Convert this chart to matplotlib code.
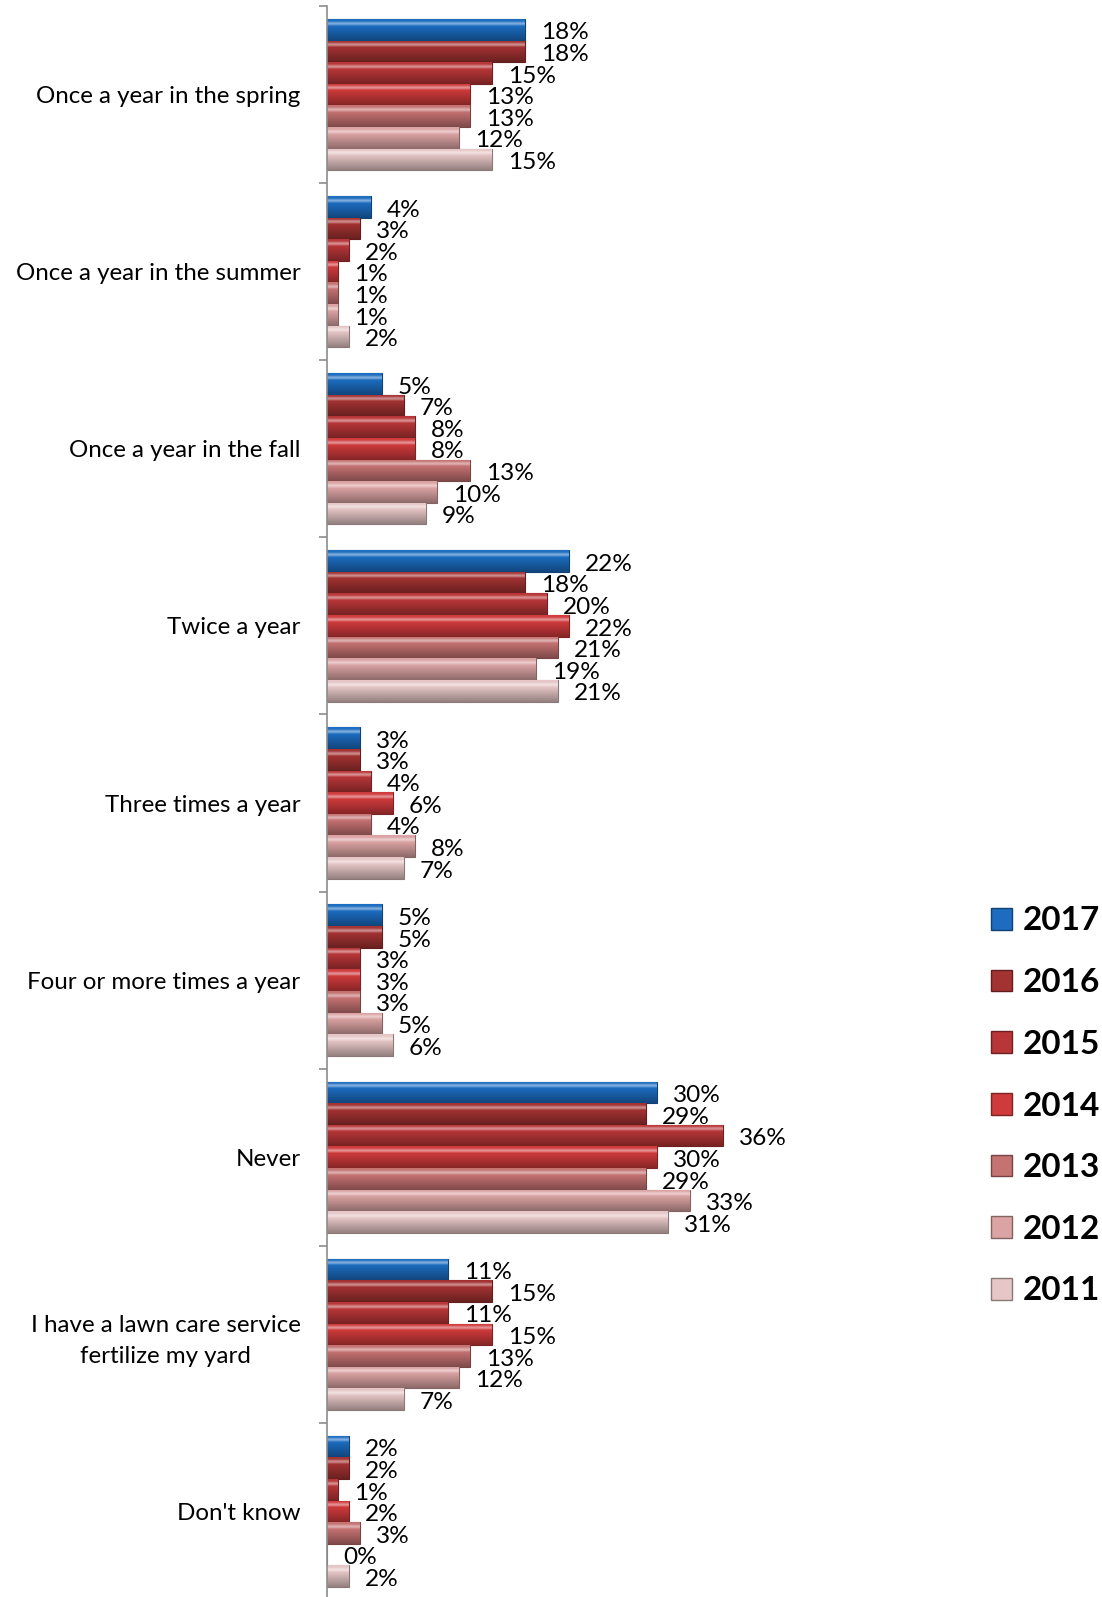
import numpy as np
import matplotlib.pyplot as plt
from matplotlib.patches import Patch
from matplotlib.colors import to_rgb

categories = ['Once a year in the spring', 'Once a year in the summer', 'Once a year in the fall',
              'Twice a year', 'Three times a year', 'Four or more times a year', 'Never',
              'I have a lawn care service\nfertilize my yard', "Don't know"]
years = ['2017', '2016', '2015', '2014', '2013', '2012', '2011']
v2017 = [18, 4, 5, 22, 3, 5, 30, 11, 2]
v2016 = [18, 3, 7, 18, 3, 5, 29, 15, 2]
v2015 = [15, 2, 8, 20, 4, 3, 36, 11, 1]
v2014 = [13, 1, 8, 22, 6, 3, 30, 15, 2]
v2013 = [13, 1, 13, 21, 4, 3, 29, 13, 3]
v2012 = [12, 1, 10, 19, 8, 5, 33, 12, 0]
v2011 = [15, 2, 9, 21, 7, 6, 31, 7, 2]
series = [v2017, v2016, v2015, v2014, v2013, v2012, v2011]
colors = ['#1c6cc0', '#a33232', '#b83638', '#cf3a3c', '#c57272', '#dba3a3', '#e6c6c6']

plt.rcParams['font.family'] = ['Lato', 'DejaVu Sans']

fig = plt.figure(figsize=(11.02, 15.97), dpi=100)
# axis runs off the bottom of the picture, as in the original
ax = fig.add_axes([327/1102, 1 - 1600/1597, 440/1102, (1600 - 6)/1597])

h = 0.122
y = np.arange(len(categories))


def shade(c, n=40):
    # glossy gradient: light band near the top, darker toward the bottom
    r = np.array(to_rgb(c))
    t = np.linspace(0, 1, n)
    out = np.zeros((n, 1, 4))
    for k, tt in enumerate(t):
        if tt < 0.3:
            m = 0.45 * np.exp(-((tt - 0.2) / 0.08) ** 2)
            col = r + (1 - r) * m
        else:
            col = r * (1 - 0.35 * (tt - 0.3) / 0.7)
        out[k, 0, :3] = np.clip(col, 0, 1)
        out[k, 0, 3] = 1
    return out


for j, (vals, col) in enumerate(zip(series, colors)):
    ys = y + (j - 3) * h
    bars = ax.barh(ys, vals, height=h, color=col, edgecolor=np.array(to_rgb(col)) * 0.6,
                   linewidth=0.8, zorder=2)
    for b, v, yy in zip(bars, vals, ys):
        if v > 0:
            im = ax.imshow(shade(col), extent=(0, v, yy + h / 2, yy - h / 2), aspect='auto',
                           zorder=2.5, interpolation='bilinear')
            im.set_clip_path(b)
        ax.text(v + 1.45, yy + 0.018, f'{v}%', va='center', ha='left', fontsize=17.6,
                color='black', clip_on=False, zorder=3)

ax.set_xlim(0, 40)
ax.set_ylim(len(categories) - 0.5, -0.5)

ax.set_yticks(y)
ax.set_yticklabels(categories, fontsize=17.4, multialignment='center', linespacing=1.55)
ax.tick_params(axis='y', which='major', length=0, pad=19)
ax.set_yticks(np.arange(len(categories) + 1) - 0.5, minor=True)
ax.tick_params(axis='y', which='minor', length=6, width=1.2, color='#8c8c8c', direction='out')
ax.set_xticks([])
for s in ['top', 'right', 'bottom']:
    ax.spines[s].set_visible(False)
ax.spines['left'].set_color('#8c8c8c')
ax.spines['left'].set_linewidth(1.2)

handles = [Patch(facecolor=c, edgecolor=np.array(to_rgb(c)) * 0.6, label=yr)
           for c, yr in zip(colors, years)]
fig.legend(handles=handles, loc='center left', bbox_to_anchor=(0.8875, 1 - 1106/1597),
           frameon=False, prop={'weight': 'bold', 'size': 24}, labelspacing=0.98,
           handlelength=0.63, handleheight=0.63, handletextpad=0.3, borderaxespad=0)

fig.savefig('out.png', dpi=100)
